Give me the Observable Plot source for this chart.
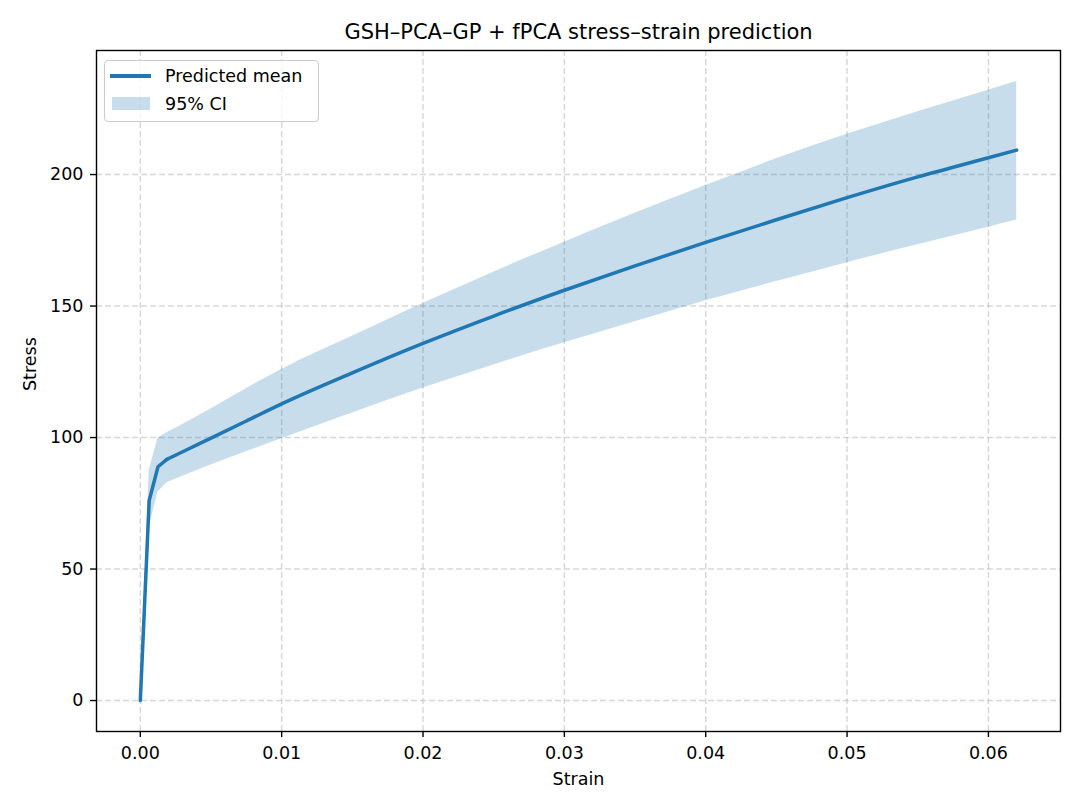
<!DOCTYPE html>
<html>
<head>
<meta charset="utf-8">
<script src="https://cdn.jsdelivr.net/npm/d3@7"></script>
<script src="https://cdn.jsdelivr.net/npm/@observablehq/plot@0.6"></script>
<style>
  body { margin: 0; background: white; font-family: "DejaVu Sans", sans-serif; }
  #wrap { position: relative; width: 1080px; height: 810px; }
  #legend { position: absolute; left: 104px; top: 60px; width: 213px; height: 60px;
    border: 1.4px solid #cccccc; border-radius: 4px; background: rgba(255,255,255,0.8);
    font-size: 17.5px; color: black; }
  .row { position: absolute; left: 0; height: 20px; width: 210px; }
  .lab { position: absolute; left: 60px; top: 50%; transform: translateY(-50%); white-space: nowrap; }
</style>
</head>
<body>
<div id="wrap">
  <div id="chart"></div>
  <div id="legend">
    <div class="row" style="top:5px;">
      <div style="position:absolute; left:5px; top:8px; width:41px; height:3.5px; background:#1f77b4;"></div>
      <div class="lab">Predicted mean</div>
    </div>
    <div class="row" style="top:33px;">
      <div style="position:absolute; left:7px; top:3px; width:38px; height:13px; background:#1f77b4; opacity:0.25;"></div>
      <div class="lab">95% CI</div>
    </div>
  </div>
</div>
<script>
const titleText = "GSH–PCA–GP + fPCA stress–strain prediction";
const xLabel = "Strain";
const yLabel = "Stress";

const strain = [0, 0.000626, 0.00125, 0.00188, 0.003, 0.005, 0.0075, 0.01, 0.015, 0.02, 0.025, 0.03, 0.035, 0.04, 0.045, 0.05, 0.055, 0.06, 0.062];
const meanStress = [0, 76.0, 88.9, 91.7, 94.6, 99.8, 106.3, 112.8, 124.6, 135.8, 146.2, 156.0, 165.3, 174.2, 182.8, 191.2, 199.1, 206.4, 209.3];
const upperStress = [0, 87.5, 99.8, 101.8, 105.0, 110.9, 118.6, 125.9, 138.5, 151.0, 162.9, 174.3, 185.3, 195.8, 206.0, 215.3, 223.9, 232.1, 235.4];
const lowerStress = [0, 66.0, 79.3, 82.8, 85.3, 89.6, 94.6, 99.5, 109.3, 118.8, 127.6, 136.0, 144.0, 152.0, 159.3, 166.5, 173.3, 180.0, 182.7];

const xTicks = [0, 0.01, 0.02, 0.03, 0.04, 0.05, 0.06];
const yTicks = [0, 50, 100, 150, 200];

const data = strain.map((s, i) => ({strain: s, mean: meanStress[i], lo: lowerStress[i], hi: upperStress[i]}));
// elastic part and knee drawn straight, plastic part drawn smooth
const kneeIndex = 3;
const elastic = data.slice(0, kneeIndex + 1);
const plastic = data.slice(kneeIndex);

const xMin = d3.min(strain), xMax = d3.max(strain);
const yMin = d3.min(lowerStress), yMax = d3.max(upperStress);
const xPad = (xMax - xMin) * 0.05, yPad = (yMax - yMin) * 0.05;

const blue = "#1f77b4";

const chart = Plot.plot({
  width: 1080,
  height: 810,
  marginTop: 50,
  marginBottom: 79,
  marginLeft: 96,
  marginRight: 20,
  style: {fontFamily: "DejaVu Sans, sans-serif", fontSize: "17.5px", color: "black", background: "white", overflow: "visible"},
  x: {domain: [xMin - xPad, xMax + xPad]},
  y: {domain: [yMin - yPad, yMax + yPad]},
  marks: [
    Plot.gridX(xTicks, {stroke: "#b0b0b0", strokeOpacity: 0.5, strokeWidth: 1.4, strokeDasharray: "6,3"}),
    Plot.gridY(yTicks, {stroke: "#b0b0b0", strokeOpacity: 0.5, strokeWidth: 1.4, strokeDasharray: "6,3"}),
    Plot.areaY(elastic, {x: "strain", y1: "lo", y2: "hi", fill: blue, fillOpacity: 0.25, curve: "linear"}),
    Plot.areaY(plastic, {x: "strain", y1: "lo", y2: "hi", fill: blue, fillOpacity: 0.25, curve: "monotone-x"}),
    Plot.lineY(elastic, {x: "strain", y: "mean", stroke: blue, strokeWidth: 3.5, curve: "linear"}),
    Plot.lineY(plastic, {x: "strain", y: "mean", stroke: blue, strokeWidth: 3.5, curve: "monotone-x"}),
    Plot.axisX(xTicks, {tickFormat: d3.format(".2f"), tickSize: 6, tickPadding: 9, label: null, strokeWidth: 1.4}),
    Plot.axisY(yTicks, {tickFormat: d3.format("d"), tickSize: 6, tickPadding: 7, label: null, strokeWidth: 1.4}),
    Plot.frame({stroke: "black", strokeWidth: 1.4}),
    Plot.text([titleText], {frameAnchor: "top", dy: -26, fontSize: 21, text: d => d}),
    Plot.text([xLabel], {frameAnchor: "bottom", dy: 53, fontSize: 17.5, text: d => d}),
    Plot.text([yLabel], {frameAnchor: "left", dx: -66, rotate: -90, fontSize: 17.5, text: d => d})
  ]
});
document.getElementById("chart").appendChild(chart);
</script>
</body>
</html>
